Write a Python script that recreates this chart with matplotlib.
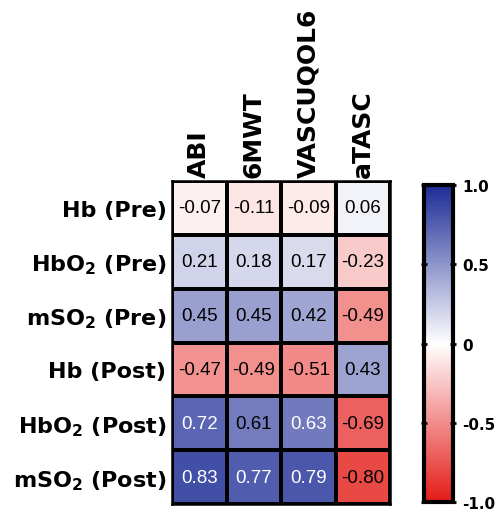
import numpy as np
import matplotlib
matplotlib.use("Agg")
import matplotlib.pyplot as plt
from matplotlib.colors import LinearSegmentedColormap

rows = [r"Hb (Pre)", r"HbO$_\mathbf{2}$ (Pre)", r"mSO$_\mathbf{2}$ (Pre)",
        r"Hb (Post)", r"HbO$_\mathbf{2}$ (Post)", r"mSO$_\mathbf{2}$ (Post)"]
cols = ["ABI", "6MWT", "VASCUQOL6", "aTASC"]
values = [
    [-0.07, -0.11, -0.09, 0.06],
    [0.21, 0.18, 0.17, -0.23],
    [0.45, 0.45, 0.42, -0.49],
    [-0.47, -0.49, -0.51, 0.43],
    [0.72, 0.61, 0.63, -0.69],
    [0.83, 0.77, 0.79, -0.80],
]
cbar_ticks = [-1.0, -0.5, 0, 0.5, 1.0]
cbar_ticklabels = ["-1.0", "-0.5", "0", "0.5", "1.0"]

data = np.array(values)
cmap = LinearSegmentedColormap.from_list("rb", ["#e41c18", "#ffffff", "#1c2c96"])

fig = plt.figure(figsize=(4.98, 5.10), dpi=100)
ax = fig.add_axes([0.3454, 0.0098, 0.4378, 0.6333])
mesh = ax.pcolormesh(data, cmap=cmap, vmin=-1, vmax=1, edgecolors="black", linewidth=1.5)
ax.set_xlim(0, len(cols))
ax.set_ylim(len(rows), 0)
for sp in ax.spines.values():
    sp.set_linewidth(1.8)

for i in range(len(rows)):
    for j in range(len(cols)):
        v = data[i, j]
        color = "white" if v >= 0.62 else "black"
        ax.text(j + 0.5, i + 0.5, f"{v:.2f}", ha="center", va="center",
                fontsize=13.5, family="Liberation Sans", color=color)

ax.xaxis.tick_top()
ax.set_xticks(np.arange(len(cols)) + 0.5)
ax.set_xticklabels(cols, rotation=90, fontsize=18, fontweight="bold",
                   family="DejaVu Sans", va="bottom", ha="center")
ax.set_yticks(np.arange(len(rows)) + 0.5)
ax.set_yticklabels(rows, fontsize=16, fontweight="bold", family="DejaVu Sans")
ax.tick_params(axis="both", length=0)
ax.tick_params(axis="x", pad=3)
ax.tick_params(axis="y", pad=4)

cax = fig.add_axes([0.8514, 0.0137, 0.0582, 0.6216])
cb = fig.colorbar(mesh, cax=cax, ticks=cbar_ticks)
cb.ax.set_yticklabels(cbar_ticklabels, fontsize=11, fontweight="bold", family="DejaVu Sans")
cb.outline.set_linewidth(3)
cb.ax.tick_params(axis="y", direction="inout", length=5, width=2, left=True, right=True, pad=4)

fig.savefig("out.png", dpi=100)
